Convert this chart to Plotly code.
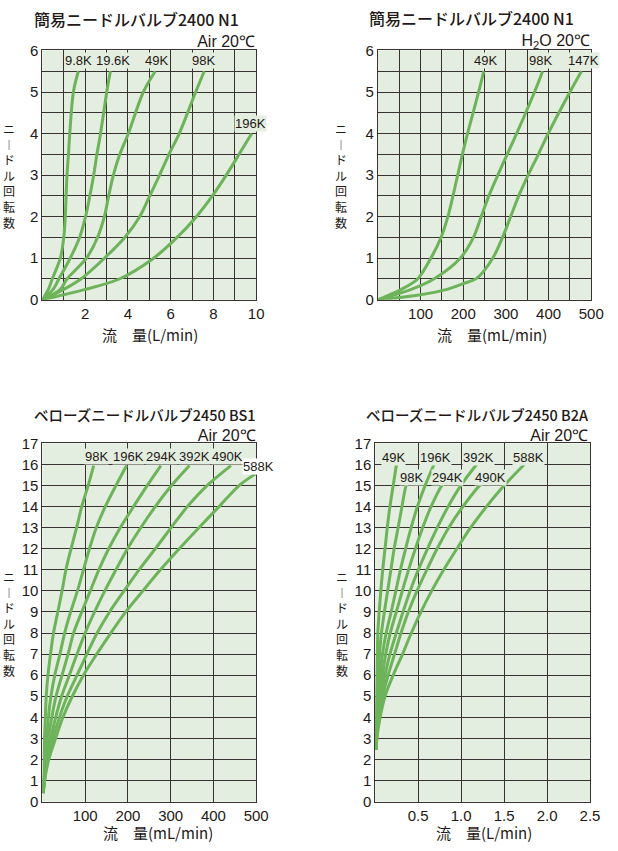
import plotly.graph_objects as go

W, H = 618, 851
GREEN = "#6db35a"
BG = "#e3ede0"
GRID = "#3a3232"
TXT = "#231815"
CJK = "Noto Sans CJK JP"
LAT = "Liberation Sans, Arial"

# ---------------- data ----------------
# 簡易ニードルバルブ2400 N1 / Air 20℃  (flow L/min, needle turns)
tl_labels = ["9.8K", "19.6K", "49K", "98K", "196K"]
tl_flow_9k8 = [0, 0.28, 0.46, 0.84, 1.0, 1.07, 1.15, 1.22, 1.28, 1.45, 1.68]
tl_turn_9k8 = [0, 0.25, 0.5, 1, 1.5, 2, 3, 3.5, 4, 5, 5.5]
tl_flow_19k6 = [0, 0.5, 0.77, 1.3, 1.74, 2.02, 2.22, 2.4, 2.55, 2.72, 3.01, 3.18]
tl_turn_19k6 = [0, 0.25, 0.5, 1, 1.5, 2, 2.5, 3, 3.5, 4, 5, 5.5]
tl_flow_49k = [0, 0.84, 1.15, 2.06, 2.58, 2.9, 3.1, 3.32, 3.62, 4.02, 4.72, 5.28]
tl_turn_49k = [0, 0.25, 0.5, 1, 1.5, 2, 2.5, 3, 3.5, 4, 5, 5.5]
tl_flow_98k = [0, 1.0, 1.8, 2.9, 3.85, 4.55, 5.02, 5.48, 5.92, 6.4, 7.17, 7.57]
tl_turn_98k = [0, 0.25, 0.5, 1, 1.5, 2, 2.5, 3, 3.5, 4, 5, 5.5]
tl_flow_196k = [0, 2.0, 3.6, 5.2, 6.3, 7.2, 7.95, 8.6, 9.2, 9.79]
tl_turn_196k = [0, 0.25, 0.5, 1, 1.5, 2, 2.5, 3, 3.5, 4]
tl_label_x = [1.68, 3.28, 5.35, 7.55, 9.73]
tl_label_y = [5.75, 5.75, 5.75, 5.75, 4.25]

# 簡易ニードルバルブ2400 N1 / H2O 20℃  (flow mL/min)
tr_labels = ["49K", "98K", "147K"]
tr_flow_49k = [0, 55, 93, 124, 148, 164, 176, 187, 198, 210, 236, 248]
tr_turn_49k = [0, 0.25, 0.5, 1, 1.5, 2, 2.5, 3, 3.5, 4, 5, 5.5]
tr_flow_98k = [0, 78, 131, 193, 224, 242, 260, 281, 303, 325, 367, 386]
tr_turn_98k = [0, 0.25, 0.5, 1, 1.5, 2, 2.5, 3, 3.5, 4, 5, 5.5]
tr_flow_147k = [0, 100, 162, 200, 232, 269, 292, 311, 330, 352, 376, 399, 450, 477]
tr_turn_147k = [0, 0.12, 0.25, 0.39, 0.52, 1, 1.5, 2, 2.5, 3, 3.5, 4, 5, 5.5]
tr_label_x = [252, 382, 482]
tr_label_y = [5.75, 5.75, 5.75]

# ベローズニードルバルブ2450 BS1 / Air 20℃  (flow mL/min)
bl_labels = ["98K", "196K", "294K", "392K", "490K", "588K"]
bl_turns = [0.4, 1, 2, 3, 4, 5, 6, 7, 8, 9, 10, 11, 12, 13, 14, 15, 15.95]
bl_flow_98k = [2, 3, 4, 5, 7, 9, 13, 19, 26, 36, 46, 55, 67, 80, 92, 107, 120]
bl_flow_196k = [2, 4, 7, 10, 14, 20, 29, 41, 52, 66, 82, 96, 110, 126, 147, 172, 197]
bl_flow_294k = [2, 4, 8, 14, 22, 32, 46, 60, 73, 92, 112, 132, 155, 182, 213, 245, 277]
bl_flow_392k = [2, 4.5, 11, 20, 31, 45, 63, 81, 100, 122, 146, 172, 199, 230, 264, 302, 344]
bl_flow_490k = [2, 5, 13, 25, 40, 58, 81, 104, 128, 157, 191, 226, 264, 301, 339, 385, 441]
bl_turns_588k = [0.4, 1, 2, 3, 4, 5, 6, 7, 8, 9, 10, 11, 12, 13, 14, 15, 15.55]
bl_flow_588k = [2, 5, 15, 31, 48, 70, 96, 127, 160, 195, 235, 276, 320, 366, 413, 460, 498]
bl_label_x = [125.6, 202, 278.6, 356, 434, 497]
bl_label_y = [16.38, 16.38, 16.38, 16.38, 16.38, 15.9]

# ベローズニードルバルブ2450 B2A / Air 20℃  (flow L/min)
br_labels = ["49K", "98K", "196K", "294K", "392K", "490K", "588K"]
br_turns_long = [2.45, 3, 4, 5, 6, 7, 8, 9, 10, 11, 12, 13, 14, 15, 16]
br_turns_short = [2.45, 3, 4, 5, 6, 7, 8, 9, 10, 11, 12, 13, 14, 15, 15.1]
br_flow_49k = [0.008, 0.01, 0.012, 0.016, 0.02, 0.025, 0.03, 0.046, 0.065, 0.087, 0.114, 0.14, 0.171, 0.209, 0.247]
br_flow_98k = [0.008, 0.012, 0.018, 0.026, 0.036, 0.05, 0.072, 0.106, 0.144, 0.182, 0.22, 0.266, 0.311, 0.36, 0.38]
br_flow_196k = [0.008, 0.013, 0.022, 0.038, 0.057, 0.084, 0.127, 0.185, 0.24, 0.293, 0.353, 0.418, 0.49, 0.58, 0.684]
br_flow_294k = [0.008, 0.014, 0.028, 0.053, 0.084, 0.122, 0.175, 0.245, 0.315, 0.388, 0.467, 0.552, 0.65, 0.775, 0.80]
br_flow_392k = [0.008, 0.016, 0.035, 0.068, 0.114, 0.171, 0.245, 0.323, 0.406, 0.501, 0.608, 0.722, 0.848, 0.995, 1.18]
br_flow_490k = [0.008, 0.017, 0.042, 0.087, 0.15, 0.225, 0.30, 0.385, 0.486, 0.60, 0.72, 0.855, 1.02, 1.215, 1.25]
br_flow_588k = [0.008, 0.019, 0.057, 0.114, 0.209, 0.318, 0.42, 0.532, 0.657, 0.797, 0.95, 1.11, 1.295, 1.50, 1.735]
br_label_x = [0.21, 0.418, 0.70, 0.845, 1.205, 1.34, 1.785]
br_label_y = [16.35, 15.37, 16.35, 15.37, 16.35, 15.37, 16.35]

# tick labels
tl_xticks = [2, 4, 6, 8, 10]
tr_xticks = [100, 200, 300, 400, 500]
bl_xticks = [100, 200, 300, 400, 500]
br_xticks = [0.5, 1.0, 1.5, 2.0, 2.5]
br_xtext = ["0.5", "1.0", "1.5", "2.0", "2.5"]
top_yticks = [0, 1, 2, 3, 4, 5, 6]
bot_yticks = list(range(0, 18))

titles = [
    ("簡易ニードルバルブ2400 N1", "Air 20℃"),
    ("簡易ニードルバルブ2400 N1", "H<sub>2</sub>O 20℃"),
    ("ベローズニードルバルブ2450 BS1", "Air 20℃"),
    ("ベローズニードルバルブ2450 B2A", "Air 20℃"),
]
xtitles = ["流　量(L/min)", "流　量(mL/min)", "流　量(mL/min)", "流　量(L/min)"]
# vertical writing: the long-vowel mark is shown in its vertical form
ytitle_chars = ["ニ", "︱", "ド", "ル", "回", "転", "数"]

# ---------------- layout helpers ----------------
def px(x):
    return x / W

def py(y):
    return 1 - y / H

panels = [
    dict(xd=(43.3, 261.7), yd=(42.3, 296.7)),
    dict(xd=(386.0, 604.0), yd=(42.3, 296.7)),
    dict(xd=(43.3, 261.7), yd=(443.3, 808.7)),
    dict(xd=(383.3, 602.7), yd=(443.3, 808.7)),
]

fig = go.Figure()

def add_curve(i, xs, ys):
    sfx = "" if i == 0 else str(i + 1)
    fig.add_trace(go.Scatter(x=xs, y=ys, mode="lines",
                             line=dict(color=GREEN, width=3, shape="spline", smoothing=0.9),
                             xaxis="x" + sfx, yaxis="y" + sfx, showlegend=False,
                             hoverinfo="skip", cliponaxis=True))

for xs, ys in [(tl_flow_9k8, tl_turn_9k8), (tl_flow_19k6, tl_turn_19k6), (tl_flow_49k, tl_turn_49k),
               (tl_flow_98k, tl_turn_98k), (tl_flow_196k, tl_turn_196k)]:
    add_curve(0, xs, ys)
for xs, ys in [(tr_flow_49k, tr_turn_49k), (tr_flow_98k, tr_turn_98k), (tr_flow_147k, tr_turn_147k)]:
    add_curve(1, xs, ys)
for xs in [bl_flow_98k, bl_flow_196k, bl_flow_294k, bl_flow_392k, bl_flow_490k]:
    add_curve(2, xs, bl_turns)
add_curve(2, bl_flow_588k, bl_turns_588k)
for xs, ys in [(br_flow_49k, br_turns_long), (br_flow_98k, br_turns_short), (br_flow_196k, br_turns_long),
               (br_flow_294k, br_turns_short), (br_flow_392k, br_turns_long), (br_flow_490k, br_turns_short),
               (br_flow_588k, br_turns_long)]:
    add_curve(3, xs, ys)

xcfg = [
    dict(range=[0, 10], tickvals=tl_xticks, ticktext=[str(v) for v in tl_xticks], minor=1),
    dict(range=[0, 500], tickvals=tr_xticks, ticktext=[str(v) for v in tr_xticks], minor=50),
    dict(range=[0, 500], tickvals=bl_xticks, ticktext=[str(v) for v in bl_xticks], minor=None),
    dict(range=[0, 2.5], tickvals=br_xticks, ticktext=br_xtext, minor=None),
]
ycfg = [
    dict(range=[0, 6], tickvals=top_yticks, minor=0.5),
    dict(range=[0, 6], tickvals=top_yticks, minor=0.5),
    dict(range=[0, 17], tickvals=bot_yticks, minor=None),
    dict(range=[0, 17], tickvals=bot_yticks, minor=None),
]

layout = dict(width=W, height=H, margin=dict(l=0, r=0, t=0, b=0),
              paper_bgcolor="white", plot_bgcolor=BG, showlegend=False)
annotations = []

for i, p in enumerate(panels):
    sfx = "" if i == 0 else str(i + 1)
    xc, yc = xcfg[i], ycfg[i]
    xa = dict(domain=[px(p["xd"][0]), px(p["xd"][1])], range=xc["range"], anchor="y" + sfx,
              tickmode="array", tickvals=xc["tickvals"], ticktext=xc["ticktext"],
              showgrid=True, gridcolor=GRID, gridwidth=1, zeroline=False,
              showline=True, mirror=True, linecolor=GRID, linewidth=1,
              ticks="", tickfont=dict(family=LAT, size=15, color=TXT), fixedrange=True)
    if xc["minor"]:
        xa["minor"] = dict(tickmode="linear", tick0=0, dtick=xc["minor"], showgrid=True,
                           gridcolor=GRID, gridwidth=1, ticks="")
    ya = dict(domain=[py(p["yd"][1]), py(p["yd"][0])], range=yc["range"], anchor="x" + sfx,
              tickmode="array", tickvals=yc["tickvals"],
              showgrid=True, gridcolor=GRID, gridwidth=1, zeroline=False,
              showline=True, mirror=True, linecolor=GRID, linewidth=1,
              ticks="", tickfont=dict(family=LAT, size=15, color=TXT), fixedrange=True)
    if yc["minor"]:
        ya["minor"] = dict(tickmode="linear", tick0=0, dtick=yc["minor"], showgrid=True,
                           gridcolor=GRID, gridwidth=1, ticks="")
    layout["xaxis" + sfx] = xa
    layout["yaxis" + sfx] = ya

# curve labels
label_sets = [(tl_labels, tl_label_x, tl_label_y), (tr_labels, tr_label_x, tr_label_y),
              (bl_labels, bl_label_x, bl_label_y), (br_labels, br_label_x, br_label_y)]
for i, (labs, lx, ly) in enumerate(label_sets):
    sfx = "" if i == 0 else str(i + 1)
    for t, x, y in zip(labs, lx, ly):
        outside = (i == 2 and t == "588K")
        annotations.append(dict(text=t, x=x, y=y, xref="x" + sfx, yref="y" + sfx,
                                showarrow=False, bgcolor="white" if outside else BG, borderpad=0,
                                xshift=4 if outside else 0,
                                font=dict(family=LAT, size=13, color=TXT)))

# titles (two right-aligned lines; second line in a Latin face)
title_pos = [(261.7, 19.8), (603.3, 19.8), (262.5, 423.5), (602.5, 423.5)]
for k, ((l1, l2), (x, y)) in enumerate(zip(titles, title_pos)):
    line2 = "<span style='font-family:Liberation Sans, Arial;font-size:16px'>" + l2 + "</span>"
    if k < 2:
        txt = l1 + "　<br>" + line2
    else:
        txt = "<span style='font-size:14.5px'>" + l1 + "</span><br>" + line2
    annotations.append(dict(text=txt, x=px(x), y=py(y), xref="paper", yref="paper",
                            xanchor="right", yanchor="middle", align="right",
                            showarrow=False, borderpad=0,
                            font=dict(family=CJK, size=16 if k < 2 else 15.5, color=TXT, weight=500)))

# x axis titles
xt_pos = [(153.0, 331.7), (502.5, 331.7), (161.7, 840.0), (494.0, 840.0)]
for t, (x, y) in zip(xtitles, xt_pos):
    annotations.append(dict(text=t, x=px(x), y=py(y), xref="paper", yref="paper",
                            xanchor="center", yanchor="middle", showarrow=False, borderpad=0,
                            font=dict(family=CJK, size=15, color=TXT)))

# vertical y axis titles (stacked upright characters)
yt_pos = [(9.0, 169.5), (348.0, 169.5), (9.0, 627.0), (349.0, 627.0)]
for (x, yc) in yt_pos:
    annotations.append(dict(text="<br>".join(ytitle_chars), x=px(x), y=py(yc),
                            xref="paper", yref="paper", xanchor="center", yanchor="middle",
                            showarrow=False, borderpad=0,
                            font=dict(family=CJK, size=12, color=TXT)))

layout["annotations"] = annotations
fig.update_layout(**layout)

# remove the browser's default page margin so the chart sits at the window's corner
fig.write_html("out.html", post_script="document.body.style.margin='0';",
               config={"displayModeBar": False})
